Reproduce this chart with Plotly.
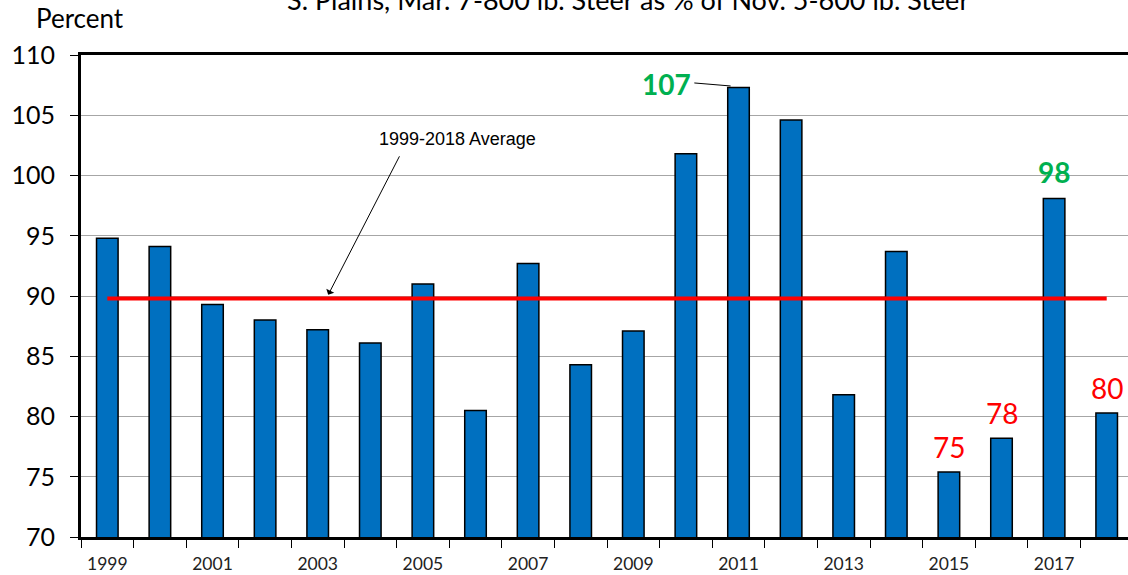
import plotly.graph_objects as go

years = list(range(1999, 2019))
values = [94.8, 94.1, 89.3, 88.0, 87.2, 86.1, 91.0, 80.5, 92.7, 84.3,
          87.1, 101.8, 107.3, 104.6, 81.8, 93.7, 75.4, 78.2, 98.1, 80.3]
avg_value = round(sum(values) / len(values), 1)
y_ticks = [70, 75, 80, 85, 90, 95, 100, 105, 110]
x_label_years = list(range(1999, 2019, 2))
green_labels = {2011: "107", 2017: "98"}
red_labels = {2015: "75", 2016: "78", 2018: "80"}

FONT = "Lato, Carlito, Calibri, 'Open Sans', sans-serif"

fig = go.Figure()
fig.add_trace(go.Bar(
    x=years, y=values, width=0.41,
    marker=dict(color="#0070C0", line=dict(color="#000000", width=1.5)),
    hoverinfo="x+y", showlegend=False,
))
fig.add_trace(go.Scatter(
    x=[years[0], years[-1]], y=[avg_value, avg_value], mode="lines",
    line=dict(color="#FF0000", width=4), showlegend=False, hoverinfo="skip",
))

fig.update_layout(
    width=1140, height=575,
    margin=dict(l=81, r=7, t=55, b=38),
    plot_bgcolor="white", paper_bgcolor="white",
    font=dict(family=FONT, color="#000000"),
)
fig.update_xaxes(
    range=[1998.5, 2018.5], automargin=False,
    tickmode="array", tickvals=x_label_years, ticktext=[str(y) for y in x_label_years],
    ticks="", tickfont=dict(size=17.5, color="#222222"),
    showline=True, linecolor="#000000", linewidth=3, mirror=True,
    showgrid=False, zeroline=False, ticklabelstandoff=9,
    minor=dict(tickmode="linear", tick0=1998.5, dtick=1, ticks="outside",
               ticklen=8, tickwidth=1, tickcolor="#000000", showgrid=False),
)
fig.update_yaxes(
    range=[70, 110], tickmode="array", tickvals=y_ticks, automargin=False,
    ticks="outside", ticklen=8, tickwidth=1, tickcolor="#000000",
    tickfont=dict(size=25, color="#000000"), ticklabelstandoff=10,
    showline=True, linecolor="#000000", linewidth=3,
    showgrid=True, gridcolor="#A6A6A6", gridwidth=1, zeroline=False,
)

# Title (partly cut off at the top in the reference)
fig.add_annotation(
    text="S. Plains, Mar. 7-800 lb. Steer as % of Nov. 5-600 lb. Steer",
    xref="paper", yref="paper", x=0.52, y=1.077, xanchor="center", yanchor="bottom",
    showarrow=False, font=dict(size=27, color="#000000"),
)
fig.add_annotation(
    text="Percent", xref="paper", yref="paper", x=-0.001, y=1.077,
    xanchor="center", yanchor="middle", showarrow=False,
    font=dict(size=26, color="#000000"),
)

# Average label and arrow
fig.add_annotation(
    text="1999-2018 Average", x=2005.65, y=103.0, xanchor="center", yanchor="middle",
    showarrow=False, font=dict(family="Arial, Liberation Sans, sans-serif", size=18, color="#000000"),
)
fig.add_annotation(
    text="", x=2003.2, y=avg_value + 0.3, ax=72, ay=-140,
    showarrow=True, arrowhead=1, arrowsize=1.5, arrowwidth=1, arrowcolor="#000000",
)

# Green labels
for yr, txt in green_labels.items():
    v = values[years.index(yr)]
    if yr == 2011:
        fig.add_annotation(text=txt, x=yr - 1.37, y=v + 0.3, xanchor="center", yanchor="middle",
                           showarrow=False, font=dict(size=28, color="#00B050", family=FONT, weight="bold"))
        fig.add_shape(type="line", x0=yr - 0.84, y0=v + 0.38, x1=yr - 0.15, y1=v + 0.13,
                      line=dict(color="#000000", width=1))
    else:
        fig.add_annotation(text=txt, x=yr, y=v, yshift=26, xanchor="center", yanchor="middle",
                           showarrow=False, font=dict(size=28, color="#00B050", family=FONT, weight="bold"))

for yr, txt in red_labels.items():
    v = values[years.index(yr)]
    fig.add_annotation(text=txt, x=yr, y=v, yshift=25, xanchor="center", yanchor="middle",
                       showarrow=False, font=dict(size=28, color="#FF0000", family=FONT))

fig.write_html(
    "out.html",
    config={"displayModeBar": False},
    post_script="document.body.style.margin='0';document.body.style.overflow='hidden';",
)
